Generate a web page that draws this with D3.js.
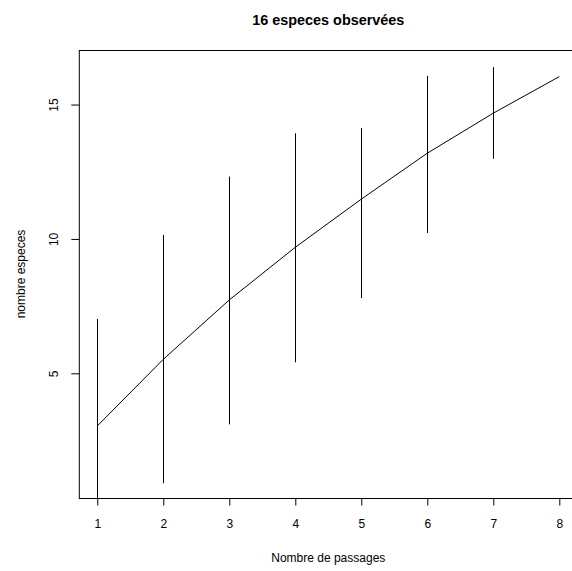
<!DOCTYPE html>
<html><head><meta charset="utf-8">
<script src="https://cdn.jsdelivr.net/npm/d3@7"></script>
<style>body{margin:0;background:#fff}svg{display:block}text{font-family:"Liberation Sans",Arial,sans-serif;fill:#000}</style>
</head><body>
<script>
const passages = [1,2,3,4,5,6,7,8];
const especes = [3.04,5.52,7.73,9.69,11.48,13.19,14.68,16.04];
const barX = [1,2,3,4,5,6,7];
const barLow = [-0.94,0.91,3.10,5.41,7.80,10.22,12.98];
const barHigh = [7.02,10.15,12.32,13.93,14.13,16.07,16.39];
const xTicks = [1,2,3,4,5,6,7,8];
const yTicks = [5,10,15];
const title = "16 especes observées";
const xLabel = "Nombre de passages";
const yLabel = "nombre especes";

const W=572,H=571;
const L=78.8,R=577.8,T=50,B=498;
const svg=d3.select("body").append("svg").attr("width",W).attr("height",H);
const x=d3.scaleLinear().domain([0.72,8.28]).range([L,R]);
const y=d3.scaleLinear().domain([0.36,17.03]).range([B,T]);

svg.append("defs").append("clipPath").attr("id","clip").append("rect")
  .attr("x",L).attr("y",T).attr("width",R-L).attr("height",B-T);
const g=svg.append("g").attr("clip-path","url(#clip)");

g.selectAll("line.bar").data(barX).join("line").attr("class","bar")
  .attr("x1",d=>Math.round(x(d))+0.5).attr("x2",d=>Math.round(x(d))+0.5)
  .attr("y1",(d,i)=>y(barLow[i])).attr("y2",(d,i)=>y(barHigh[i]))
  .attr("stroke","#000").attr("stroke-width",1);

g.append("path").datum(passages.map((p,i)=>[p,especes[i]]))
  .attr("d",d3.line().x(d=>x(d[0])).y(d=>y(d[1])))
  .attr("fill","none").attr("stroke","#000").attr("stroke-width",1);

svg.append("rect").attr("x",L+0.5).attr("y",T+0.5).attr("width",R-L).attr("height",B-T)
  .attr("fill","none").attr("stroke","#000").attr("stroke-width",1);

const xa=svg.append("g").attr("transform",`translate(0,${B+0.5})`)
  .call(d3.axisBottom(x).tickValues(xTicks).tickSize(7).tickPadding(14).tickFormat(d3.format("d")));
xa.select(".domain").remove();
xa.selectAll("text").attr("font-size",12).attr("font-family","Liberation Sans, Arial, sans-serif");

const ya=svg.append("g").attr("transform",`translate(${L+0.5},0)`)
  .call(d3.axisLeft(y).tickValues(yTicks).tickSize(8).tickFormat(d3.format("d")));
ya.select(".domain").remove();
ya.selectAll("text").attr("font-size",12).attr("font-family","Liberation Sans, Arial, sans-serif")
  .attr("transform",`translate(${54-(L+0.5)},0) rotate(-90)`)
  .attr("x",0).attr("y",0).attr("dy","0.35em").attr("text-anchor","middle");

svg.append("text").attr("x",(L+R)/2).attr("y",25).attr("text-anchor","middle")
  .attr("font-size",14.4).attr("font-weight","bold").text(title);
svg.append("text").attr("x",(L+R)/2).attr("y",562).attr("text-anchor","middle")
  .attr("font-size",12).text(xLabel);
svg.append("text").attr("transform",`translate(25,${(T+B)/2}) rotate(-90)`).attr("text-anchor","middle")
  .attr("font-size",12).text(yLabel);
</script>
</body></html>
